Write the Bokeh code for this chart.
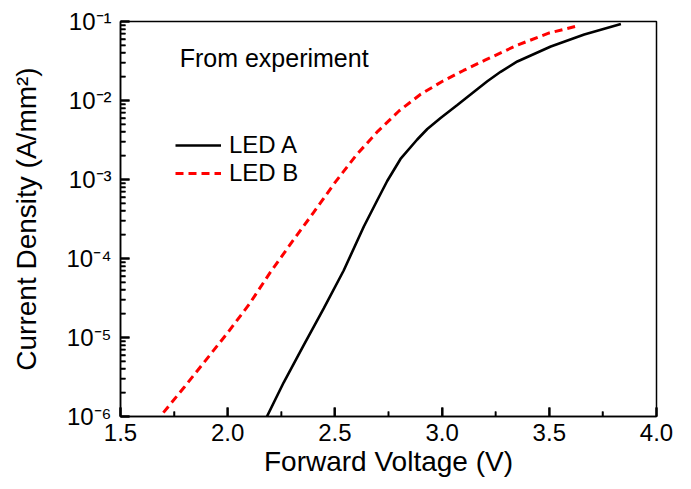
from bokeh.plotting import figure
from bokeh.models import Legend, LegendItem, Label, FixedTicker, PrintfTickFormatter
from bokeh.embed import file_html
from bokeh.resources import INLINE

# ---- data ----
x_ticks = [1.5, 2.0, 2.5, 3.0, 3.5, 4.0]
x_minor = [1.75, 2.25, 2.75, 3.25, 3.75]
y_ticks = [1e-6, 1e-5, 1e-4, 1e-3, 1e-2, 1e-1]
y_tick_labels = ["10\u207b\u2076", "10\u207b\u2075", "10\u207b\u2074",
                 "10\u207b\u00b3", "10\u207b\u00b2", "10\u207b\u00b9"]

led_a_v = [2.183, 2.261, 2.354, 2.448, 2.541, 2.635, 2.697, 2.744, 2.806,
           2.884, 2.931, 2.993, 3.071, 3.149, 3.211, 3.273, 3.351, 3.507,
           3.663, 3.834]
led_a_j = [1.00e-6, 2.69e-6, 7.93e-6, 2.33e-5, 7.05e-5, 2.54e-4, 5.42e-4,
           9.57e-4, 1.82e-3, 3.21e-3, 4.36e-3, 6.00e-3, 8.75e-3, 1.29e-2,
           1.75e-2, 2.31e-2, 3.12e-2, 4.83e-2, 6.84e-2, 9.29e-2]

led_b_v = [1.70, 1.80, 1.90, 2.00, 2.10, 2.20, 2.30, 2.40, 2.50, 2.60,
           2.70, 2.80, 2.90, 3.00, 3.10, 3.20, 3.35, 3.50, 3.64]
led_b_j = [1.12e-6, 2.40e-6, 5.25e-6, 1.15e-5, 2.63e-5, 6.76e-5, 1.62e-4,
           3.80e-4, 9.12e-4, 2.04e-3, 4.07e-3, 7.41e-3, 1.20e-2, 1.74e-2,
           2.40e-2, 3.24e-2, 5.01e-2, 7.16e-2, 8.91e-2]

FONT = "Liberation Sans"
X0, X1 = 1.5, 4.0
Y0, Y1 = 1e-6, 1e-1

W, H = 690, 488
BL, BT, BR, BB = 120, 21, 34, 72
FW, FH = W - BL - BR, H - BT - BB          # frame size in px

p = figure(width=W, height=H, x_range=(X0, X1), y_range=(Y0, Y1),
           y_axis_type="log", output_backend="svg", toolbar_location=None,
           min_border_left=BL, min_border_right=BR, min_border_top=BT,
           min_border_bottom=BB)
p.grid.visible = False
p.background_fill_color = "white"
p.border_fill_color = "white"
p.outline_line_color = "black"
p.outline_line_width = 1.5
p.outline_line_alpha = 1.0

# x axis
xa = p.xaxis[0]
xa.ticker = FixedTicker(ticks=x_ticks, minor_ticks=x_minor)
xa.formatter = PrintfTickFormatter(format="%.1f")
xa.axis_label = "Forward Voltage (V)"

# y axis
y_minor = [m * t for t in y_ticks[:-1] for m in range(2, 10)]
ya = p.yaxis[0]
ya.ticker = FixedTicker(ticks=y_ticks, minor_ticks=y_minor)
ya.major_label_overrides = {t: s for t, s in zip(y_ticks, y_tick_labels)}
ya.axis_label = "Current Density (A/mm\u00b2)"

for ax in (xa, ya):
    ax.axis_line_color = "black"
    ax.axis_line_width = 1.5
    ax.major_tick_line_color = "black"
    ax.minor_tick_line_color = "black"
    ax.major_tick_line_width = 2
    ax.minor_tick_line_width = 1.5
    ax.major_tick_in = 9
    ax.major_tick_out = 0
    ax.minor_tick_in = 5
    ax.minor_tick_out = 0
    ax.major_label_text_font = FONT
    ax.major_label_text_font_size = "24px"
    ax.major_label_text_color = "black"
    ax.axis_label_text_font = FONT
    ax.axis_label_text_font_size = "28px"
    ax.axis_label_text_font_style = "normal"
    ax.axis_label_text_color = "black"

xa.major_label_standoff = 7
xa.axis_label_standoff = 2
ya.major_label_standoff = 9
ya.axis_label_standoff = 21

ra = p.line(led_a_v, led_a_j, line_color="black", line_width=2.6)
rb = p.line(led_b_v, led_b_j, line_color="#ff0000", line_width=3,
            line_dash="8 5")

# inward tick marks as segments (lengths in px converted to data units)
px_per_decade = FH / 5.0
px_per_volt = FW / (X1 - X0)
maj_len, min_len = 9, 5
tick_kw = dict(line_color="black", level="overlay")
p.segment(x0=x_ticks, y0=[Y0] * len(x_ticks), x1=x_ticks,
          y1=[Y0 * 10 ** (maj_len / px_per_decade)] * len(x_ticks),
          line_width=2.0, **tick_kw)
p.segment(x0=x_minor, y0=[Y0] * len(x_minor), x1=x_minor,
          y1=[Y0 * 10 ** (min_len / px_per_decade)] * len(x_minor),
          line_width=1.6, **tick_kw)
p.segment(x0=[X0] * len(y_ticks), y0=y_ticks,
          x1=[X0 + maj_len / px_per_volt] * len(y_ticks), y1=y_ticks,
          line_width=2.0, **tick_kw)
p.segment(x0=[X0] * len(y_minor), y0=y_minor,
          x1=[X0 + min_len / px_per_volt] * len(y_minor), y1=y_minor,
          line_width=1.6, **tick_kw)

legend = Legend(items=[LegendItem(label="LED A", renderers=[ra]),
                       LegendItem(label="LED B", renderers=[rb])],
                location=(55, 229), orientation="vertical",
                label_text_font=FONT, label_text_font_size="24px",
                label_text_color="black", label_height=28, glyph_height=28,
                glyph_width=46, label_standoff=8, spacing=0, padding=0,
                margin=0, border_line_alpha=0, background_fill_alpha=0)
p.add_layout(legend, "center")

note = Label(x=1.776, y=10 ** -1.468, text="From experiment",
             text_font=FONT, text_font_size="25px", text_color="black",
             text_baseline="middle", text_align="left")
p.add_layout(note)

open("out.html", "w").write(file_html(p, INLINE))
